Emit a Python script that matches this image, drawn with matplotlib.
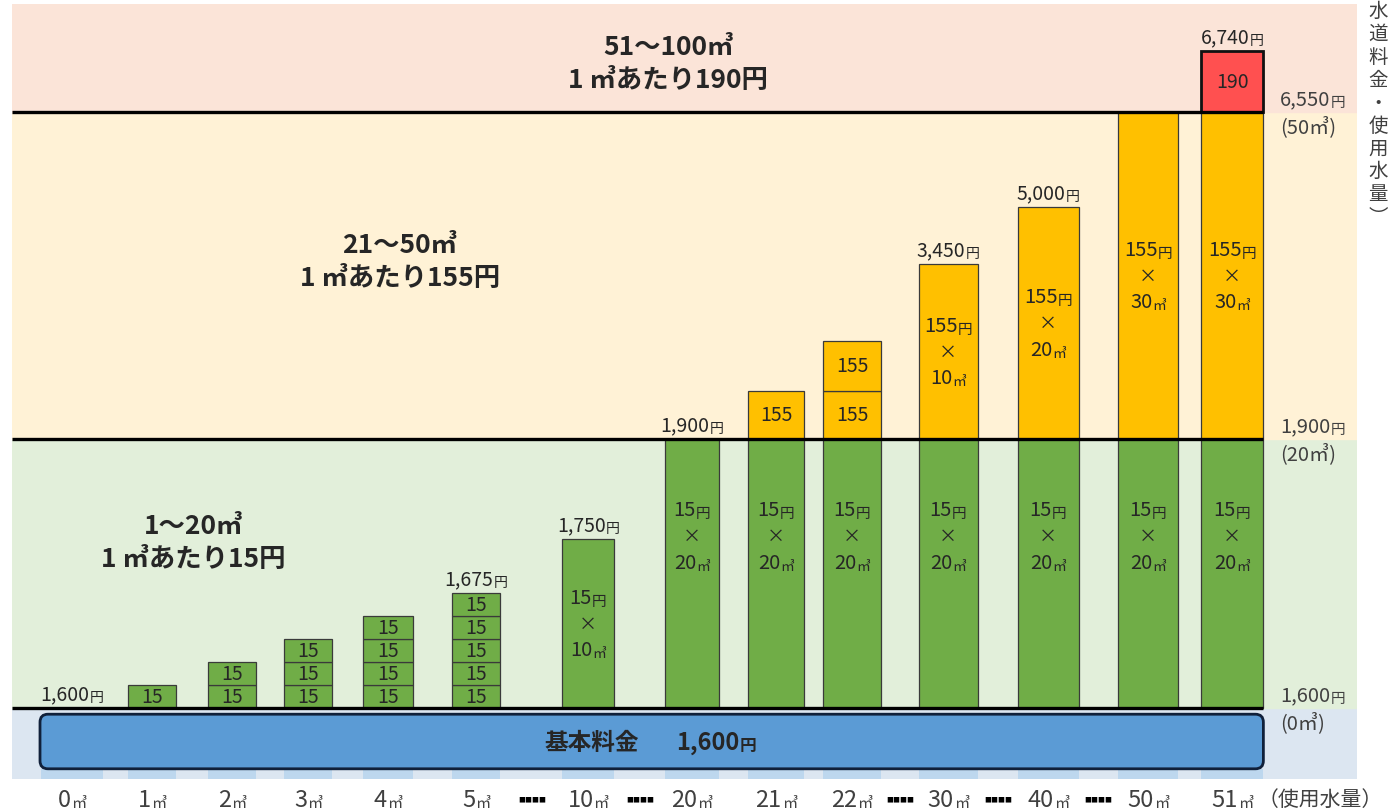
import numpy as np
import matplotlib.pyplot as plt
from matplotlib.patches import FancyBboxPatch

plt.rcParams['font.family'] = ['Noto Sans CJK JP', 'DejaVu Sans']

# data
usage = [0, 1, 2, 3, 4, 5, 10, 20, 21, 22, 30, 40, 50, 51]
tier1_m3 = [0, 1, 2, 3, 4, 5, 10, 20, 20, 20, 20, 20, 20, 20]
tier2_m3 = [0, 0, 0, 0, 0, 0, 0, 0, 1, 2, 10, 20, 30, 30]
tier3_m3 = [0, 0, 0, 0, 0, 0, 0, 0, 0, 0, 0, 0, 0, 1]
totals = [1600, 1615, 1630, 1645, 1660, 1675, 1750, 1900, 2055, 2210, 3450, 5000, 6550, 6740]
show_total = [1, 0, 0, 0, 0, 1, 1, 1, 0, 0, 1, 1, 0, 1]
base_fee = 1600
rates = [15, 155, 190]
tier_edges = [1600, 1900, 6550]
edge_labels = [('1,600', '(0㎥)'), ('1,900', '(20㎥)'), ('6,550', '(50㎥)')]
band_titles = ['1～20㎥\n1 ㎥あたり15円', '21～50㎥\n1 ㎥あたり155円', '51～100㎥\n1 ㎥あたり190円']

# layout
xpos = [0, 1, 2, 2.95, 3.95, 5.05, 6.45, 7.75, 8.8, 9.75, 10.95, 12.2, 13.45, 14.5]
widths = [0.78, 0.6, 0.6, 0.6, 0.62, 0.6, 0.65, 0.68, 0.7, 0.72, 0.74, 0.76, 0.75, 0.78]
# illustrative (non-linear) money axis: value -> position
scale_vals = [0, 1600, 1615, 1630, 1645, 1660, 1675, 1750, 1900, 2055, 2210, 3450, 5000, 6550, 6740, 7000]
scale_pos = [0, 71, 94, 117, 140, 163, 186, 240, 340, 388, 438, 515, 572, 667, 728, 775]

GREEN, YELLOW, RED, BLUE = '#70ad47', '#ffc000', '#ff5050', '#5b9bd5'
TXT = '#262626'
EDGE = '#3a3a3a'


def fwd(v):
    return np.interp(v, scale_vals, scale_pos)


def inv(p):
    return np.interp(p, scale_pos, scale_vals)


fig = plt.figure(figsize=(13.95, 8.12), dpi=100)
ax = fig.add_axes([12 / 1395, 32 / 812, 1345 / 1395, 775 / 812])
ax.set_yscale('function', functions=(fwd, inv))
ax.set_ylim(0, 7000)
ax.set_xlim(-0.75, 16.06)
ax.axis('off')

# background bands
ax.axhspan(0, 1600, color='#dce6f1', zorder=0)
ax.axhspan(1600, 1900, color='#e2efda', zorder=0)
ax.axhspan(1900, 6550, color='#fff2d6', zorder=0)
ax.axhspan(6550, 7000, color='#fbe4d8', zorder=0)


def label(x, y, main, suffix='', size=13, ssize=9.5, weight='normal', dy=0, va='center',
          xycoords='data', color=TXT):
    t = ax.annotate(main, (x, y), xycoords=xycoords,
                    xytext=(-ssize * 0.5 if suffix else 0, dy), textcoords='offset points',
                    ha='center', va=va, fontsize=size, fontweight=weight, color=color, zorder=5)
    if suffix:
        ax.annotate(suffix, (1, 0), xycoords=t, ha='left', va='bottom', fontsize=ssize,
                    fontweight=weight, color=color, zorder=5)
    return t


def mid(b, t):
    return inv((fwd(b) + fwd(t)) / 2)


def stacked_label(x, b, t, amount, unit_m3, extra=0):
    y = mid(b, t)
    label(x, y, str(amount), '円', size=14.5, ssize=10.5, dy=19 + extra)
    label(x, y, '×', size=13, dy=extra)
    label(x, y, str(unit_m3), '㎥', size=14.5, ssize=10, dy=-19 + extra)


# base fee box and shadows
for i, u in enumerate(usage):
    ax.bar(xpos[i], 230, bottom=0, width=widths[i], color='#bdd7ee', zorder=1)
box_l, box_r = -0.4, xpos[-1] + widths[-1] / 2
ax.add_patch(FancyBboxPatch((box_l, 230), box_r - box_l, 1230,
                            boxstyle='round,pad=0,rounding_size=0.1', mutation_aspect=1800,
                            facecolor=BLUE, edgecolor='#10203a', lw=2, zorder=2))
label(6.5, 845, '基本料金', size=17, weight='bold')
label(8.05, 845, '1,600', '円', size=17, ssize=12, weight='bold')

colors = [GREEN, YELLOW, RED]
for i, u in enumerate(usage):
    x, w = xpos[i], widths[i]
    bottom = base_fee
    for tier, n in enumerate([tier1_m3[i], tier2_m3[i], tier3_m3[i]]):
        if n == 0:
            continue
        rate = rates[tier]
        lw = 2.0 if tier == 2 else 0.9
        ec = '#111111' if tier == 2 else EDGE
        if n < 10:
            for k in range(n):
                b = bottom + rate * k
                ax.bar(x, rate, bottom=b, width=w, color=colors[tier], edgecolor=ec,
                       lw=lw, zorder=2)
                label(x, mid(b, b + rate), str(rate), size=14)
        else:
            ax.bar(x, rate * n, bottom=bottom, width=w, color=colors[tier], edgecolor=ec,
                   lw=lw, zorder=2)
            extra = 27 if (tier == 0 and n == 20) else 0
            stacked_label(x, bottom, bottom + rate * n, rate, n, extra)
        bottom += rate * n
    if show_total[i]:
        label(x, totals[i], f'{totals[i]:,}', '円', size=14, ssize=10, dy=3, va='bottom')

# tier boundary lines
ax.hlines(tier_edges, -0.75, box_r, colors='black', lw=2.4, zorder=3)

# right side labels
for v, (amt, m3) in zip(tier_edges, edge_labels):
    t = ax.annotate(amt, (15.1, v), xytext=(0, 2), textcoords='offset points', ha='left',
                    va='bottom', fontsize=14.5, color='#404040')
    ax.annotate('円', (1, 0), xycoords=t, ha='left', va='bottom', fontsize=10.5, color='#404040')
    ax.annotate(m3, (15.1, v), xytext=(0, -2), textcoords='offset points', ha='left',
                va='top', fontsize=14.5, color='#404040')

# band titles
ax.text(1.52, 0.306, band_titles[0], transform=ax.get_xaxis_transform(), ha='center',
        va='center', fontsize=19, fontweight='bold', color=TXT, linespacing=1.3)
ax.text(4.1, 0.668, band_titles[1], transform=ax.get_xaxis_transform(), ha='center',
        va='center', fontsize=19, fontweight='bold', color=TXT, linespacing=1.3)
ax.text(7.45, 0.924, band_titles[2], transform=ax.get_xaxis_transform(), ha='center',
        va='center', fontsize=19, fontweight='bold', color=TXT, linespacing=1.3)

# x labels
for i, u in enumerate(usage):
    label(xpos[i], -0.026, str(u), '㎥', size=17, ssize=11, va='center',
          xycoords=ax.get_xaxis_transform(), color='#404040')
for i in range(1, len(usage)):
    if usage[i] - usage[i - 1] > 1:
        ax.text((xpos[i] + xpos[i - 1]) / 2, -0.026, '■■■■', transform=ax.get_xaxis_transform(),
                ha='center', va='center', fontsize=5, color='black')
ax.text(15.6, -0.026, '（使用水量）', transform=ax.get_xaxis_transform(), ha='center',
        va='center', fontsize=15, color='#404040')

fig.text(1378 / 1395, 1 - 1 / 812, '水\n道\n料\n金\n・\n使\n用\n水\n量\n︶', ha='center', va='top',
         fontsize=14, color='#404040', linespacing=1.12)

fig.savefig('out.png', dpi=100)
